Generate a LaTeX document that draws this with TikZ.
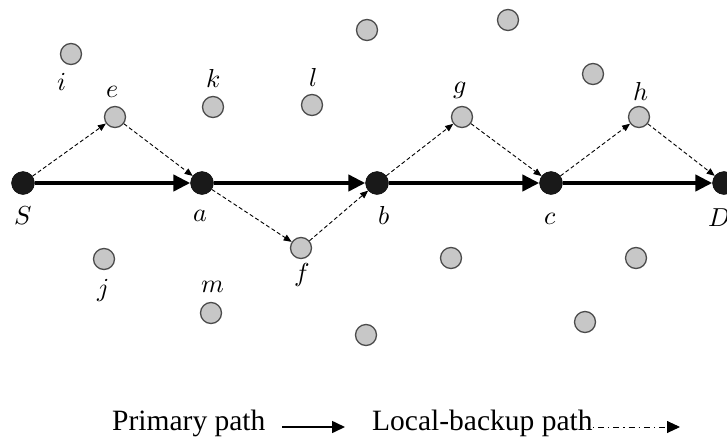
\documentclass[tikz,border=0pt]{standalone}
\usepackage{fontspec}
\setmainfont{Liberation Serif}
\usepackage{unicode-math}
\setmathfont{Latin Modern Math}
\usetikzlibrary{arrows.meta}
\tikzset{
  mainnode/.style={circle,fill=black!90,draw=black,minimum size=23pt,inner sep=0pt},
  graynode/.style={circle,fill=black!22,draw=black!70,line width=1.3pt,minimum size=21pt,inner sep=0pt},
  lbl/.style={inner sep=0pt,font=\fontsize{26}{30}\selectfont},
  primary/.style={line width=4.5pt,-{Triangle[length=17pt,width=16pt]}},
  backup/.style={line width=0.9pt,dash pattern=on 4pt off 2.5pt,-{Triangle[length=8pt,width=6.5pt]}},
  legtext/.style={inner sep=0pt,anchor=base west,font=\fontsize{29.5}{34}\selectfont},
}
\begin{document}
\begin{tikzpicture}[x=1pt,y=-1pt]
\useasboundingbox (0,0) rectangle (727,439);
% main nodes
\node[mainnode] (S) at (23,183) {};
\node[mainnode] (a) at (202,183) {};
\node[mainnode] (b) at (377,183) {};
\node[mainnode] (c) at (551,183) {};
\node[mainnode] (D) at (724,183) {};
% gray nodes
\node[graynode] (e) at (115,117) {};
\node[graynode] (f) at (301,248) {};
\node[graynode] (g) at (462,117) {};
\node[graynode] (h) at (639,117) {};
\node[graynode] (i) at (71,54) {};
\node[graynode] (k) at (213,107) {};
\node[graynode] (l) at (312,105) {};
\node[graynode] (j) at (104,259) {};
\node[graynode] (m) at (211,313) {};
\node[graynode] (u1) at (367,30) {};
\node[graynode] (u2) at (508,20) {};
\node[graynode] (u3) at (593,74) {};
\node[graynode] (u4) at (451,258) {};
\node[graynode] (u5) at (636,258) {};
\node[graynode] (u6) at (366,335) {};
\node[graynode] (u7) at (585,322) {};
% labels
\node[lbl] (lS) at (23,216) {$S$};
\node[lbl] (la) at (200,216) {$a$};
\node[lbl] (lb) at (384,216) {$b$};
\node[lbl] (lc) at (550,219) {$c$};
\node[lbl] (lD) at (719,218) {$D$};
\node[lbl] (le) at (113,92) {$e$};
\node[lbl] (lf) at (302,275) {$f$};
\node[lbl] (lg) at (460,90) {$g$};
\node[lbl] (lh) at (641,92) {$h$};
\node[lbl] (li) at (62,82) {$i$};
\node[lbl] (lk) at (213,79) {$k$};
\node[lbl] (ll) at (313,78) {$l$};
\node[lbl] (lj) at (103,291) {$j$};
\node[lbl] (lm) at (213,287) {$m$};
% primary path
\draw[primary] (S) -- (a);
\draw[primary] (a) -- (b);
\draw[primary] (b) -- (c);
\draw[primary] (c) -- (D);
% backup paths
\draw[backup] (S) -- (e);
\draw[backup] (e) -- (a);
\draw[backup] (a) -- (f);
\draw[backup] (f) -- (b);
\draw[backup] (b) -- (g);
\draw[backup] (g) -- (c);
\draw[backup] (c) -- (h);
\draw[backup] (h) -- (D);
% legend
\node[legtext] (t1) at (112,430) {Primary path};
\coordinate (p1) at (282,427);
\coordinate (p2) at (345,427);
\draw[line width=1.6pt,-{Triangle[length=13pt,width=12pt]}] (p1) -- (p2);
\node[legtext] (t2) at (372,430) {Local-backup path};
\coordinate (q1) at (593,427);
\coordinate (q2) at (680,427);
\draw[line width=0.9pt,dash pattern=on 1.2pt off 4pt on 6pt off 4pt,-{Triangle[length=13pt,width=12pt]}] (q1) -- (q2);
\end{tikzpicture}
\end{document}
